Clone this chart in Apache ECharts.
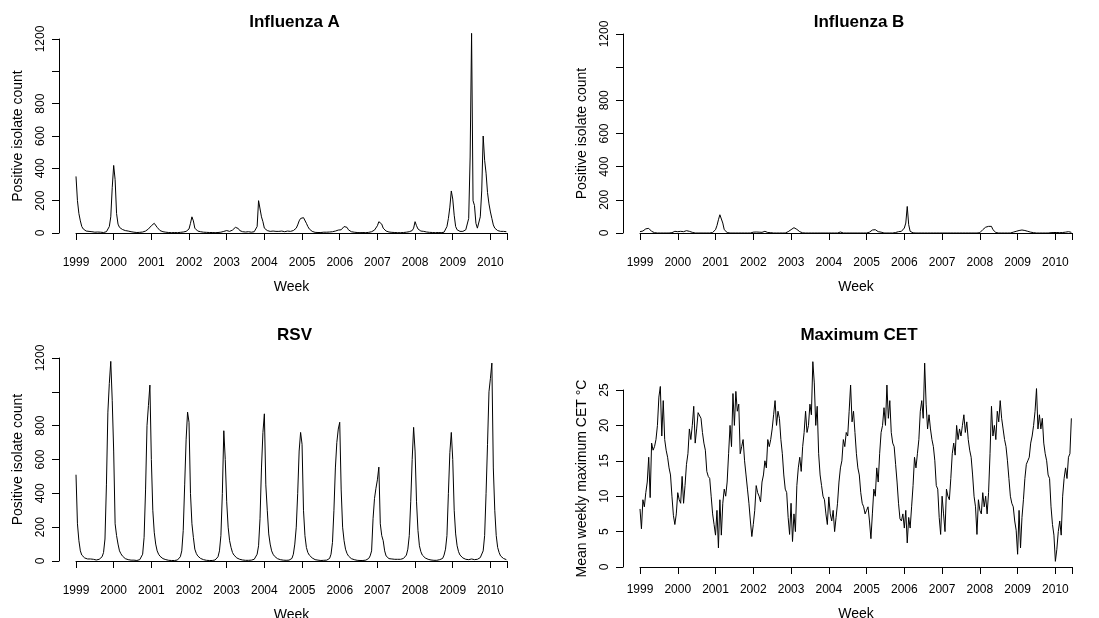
<!DOCTYPE html>
<html>
<head>
<meta charset="utf-8">
<script src="https://cdn.jsdelivr.net/npm/echarts@6/dist/echarts.min.js"></script>
<style>
html, body { margin: 0; padding: 0; background: #fff; }
#chart { width: 1099px; height: 618px; }
</style>
</head>
<body>
<div id="chart"></div>
<script>
// fortnightly readings, 26 per year, first one at the start of 1999
const startYear = 1999
const stepsPerYear = 26
const endYear = 2010.44

const yearTicks = [1999, 2000, 2001, 2002, 2003, 2004, 2005, 2006, 2007, 2008, 2009, 2010]
const countLabels = [0, 200, 400, 600, 800, 1200]
const tempLabels = [0, 5, 10, 15, 20, 25]

const fluA = [
  350, 200, 120, 75, 40, 25, 15, 12, 14, 10, 10, 8, 6, 5, 4, 6, 4, 5, 4, 3, 6, 8, 14, 40, 100, 280,
  418, 330, 120, 55, 35, 28, 22, 18, 15, 14, 12, 10, 8, 6, 5, 4, 3, 3, 4, 5, 6, 8, 12, 18, 25, 35,
  45, 55, 60, 50, 35, 25, 15, 10, 8, 6, 5, 4, 3, 3, 2, 2, 3, 2, 2, 3, 4, 5, 6, 8, 10, 15,
  25, 60, 100, 75, 30, 18, 12, 10, 8, 6, 5, 5, 4, 3, 3, 4, 3, 2, 2, 3, 3, 4, 5, 8, 10, 14,
  15, 12, 10, 12, 18, 25, 35, 40, 28, 15, 10, 8, 8, 6, 5, 8, 6, 5, 6, 8, 12, 40, 200, 190, 100, 70,
  30, 20, 15, 12, 10, 10, 12, 8, 10, 8, 10, 8, 12, 10, 8, 10, 12, 8, 10, 12, 15, 20, 30, 50, 75, 90,
  95, 95, 85, 60, 40, 25, 15, 10, 6, 4, 3, 3, 4, 3, 4, 5, 4, 5, 6, 6, 8, 8, 10, 12, 15, 18,
  18, 20, 25, 40, 50, 35, 20, 12, 8, 6, 5, 4, 3, 3, 2, 2, 3, 2, 2, 3, 4, 5, 8, 12, 18, 30,
  45, 70, 80, 55, 30, 18, 12, 8, 6, 5, 4, 3, 3, 3, 2, 2, 2, 3, 3, 4, 5, 6, 8, 10, 15, 30,
  70, 45, 25, 15, 12, 10, 10, 8, 6, 5, 4, 3, 3, 2, 2, 2, 3, 2, 2, 3, 5, 12, 40, 90, 160, 260,
  210, 110, 40, 20, 12, 10, 8, 10, 15, 20, 25, 90, 470, 1235, 200, 170, 60, 30, 25, 100, 260, 600, 450, 370, 250, 180,
  130, 90, 50, 30, 20, 15, 12, 10, 8, 10, 12, 8
]

const fluB = [
  8, 10, 12, 18, 25, 36, 28, 18, 10, 5, 2, 1, 0, 0, 0, 0, 0, 0, 0, 0, 0, 0, 2, 5, 10, 12,
  8, 14, 10, 12, 8, 10, 14, 12, 10, 8, 4, 2, 0, 0, 0, 0, 0, 0, 0, 0, 0, 0, 0, 1, 3, 8,
  20, 45, 80, 110, 120, 60, 20, 8, 3, 1, 0, 0, 0, 0, 0, 0, 0, 0, 0, 0, 0, 0, 0, 0, 0, 2,
  5, 3, 6, 2, 5, 8, 4, 6, 10, 5, 3, 8, 2, 0, 0, 0, 0, 0, 0, 0, 0, 0, 0, 2, 8, 15,
  20, 28, 32, 30, 22, 15, 8, 3, 1, 0, 0, 0, 0, 0, 0, 0, 0, 0, 0, 0, 0, 0, 0, 0, 0, 0,
  0, 0, 0, 0, 0, 0, 0, 0, 6, 0, 0, 0, 0, 0, 0, 0, 0, 0, 0, 0, 0, 0, 0, 0, 0, 0,
  0, 2, 5, 10, 18, 25, 20, 10, 8, 12, 5, 2, 0, 0, 0, 0, 0, 0, 0, 2, 3, 5, 8, 6, 10, 15,
  30, 60, 160, 50, 10, 3, 1, 0, 0, 0, 0, 0, 0, 0, 0, 0, 0, 0, 0, 0, 0, 0, 0, 0, 0, 0,
  0, 0, 0, 0, 0, 0, 0, 0, 0, 0, 0, 0, 0, 0, 0, 0, 0, 0, 0, 0, 0, 0, 0, 0, 0, 0,
  2, 10, 20, 28, 35, 30, 40, 50, 40, 20, 8, 3, 2, 0, 0, 0, 0, 0, 0, 0, 0, 0, 2, 5, 8, 10,
  12, 15, 20, 18, 22, 15, 18, 10, 8, 5, 3, 2, 0, 0, 0, 0, 0, 0, 0, 0, 0, 0, 0, 2, 5, 3,
  5, 3, 8, 2, 6, 3, 2, 5, 3, 8, 2, 4
]

const rsv = [
  510, 220, 120, 60, 35, 25, 18, 15, 12, 10, 12, 8, 10, 8, 6, 8, 10, 15, 25, 50, 130, 450, 880, 1050, 1180, 950,
  650, 220, 150, 100, 60, 43, 30, 20, 14, 12, 8, 6, 5, 4, 5, 4, 3, 5, 8, 15, 40, 140, 420, 800, 920, 1040,
  600, 300, 170, 100, 60, 40, 28, 20, 14, 10, 8, 6, 4, 3, 3, 2, 3, 4, 6, 12, 25, 60, 180, 450, 720, 880,
  820, 400, 220, 140, 70, 45, 30, 20, 15, 10, 8, 6, 4, 3, 3, 2, 3, 4, 6, 10, 25, 60, 150, 400, 770, 600,
  350, 200, 120, 80, 50, 35, 25, 18, 14, 10, 8, 6, 5, 4, 3, 4, 3, 5, 6, 10, 20, 40, 90, 250, 550, 760,
  870, 450, 300, 160, 100, 60, 40, 28, 20, 14, 10, 8, 6, 5, 4, 4, 3, 5, 8, 15, 40, 100, 200, 400, 650, 760,
  690, 300, 150, 80, 50, 35, 25, 18, 12, 8, 6, 5, 4, 3, 3, 4, 3, 5, 8, 15, 40, 110, 300, 550, 700, 780,
  820, 420, 200, 120, 70, 45, 30, 20, 14, 10, 8, 6, 4, 3, 3, 2, 3, 4, 5, 8, 15, 30, 60, 250, 370, 430,
  480, 555, 220, 150, 120, 60, 30, 20, 14, 10, 12, 15, 10, 12, 10, 8, 10, 12, 15, 20, 35, 70, 150, 350, 600, 790,
  650, 350, 180, 90, 55, 35, 25, 18, 12, 10, 8, 6, 5, 4, 5, 4, 6, 8, 10, 15, 35, 70, 150, 400, 640, 760,
  600, 300, 160, 90, 55, 35, 25, 18, 14, 10, 10, 8, 10, 12, 10, 8, 12, 10, 15, 20, 30, 60, 150, 400, 690, 1000,
  1080, 1170, 550, 300, 150, 80, 50, 30, 20, 15, 10, 8
]

const cetMax = [
  8.2, 5.4, 9.5, 8.5, 10.5, 12, 15.5, 9.8, 17.5, 16.5, 17, 18, 20, 24, 25.5, 18.5, 23.5, 18, 16.5, 15.5, 14, 13, 10, 7.3, 6, 7.5,
  10.5, 9.5, 9, 12.8, 9, 11.5, 14.5, 16, 19.5, 18, 20, 22.7, 17.5, 19.5, 21.8, 22, 21, 19, 17.5, 16.5, 13.5, 12.8, 12.5, 10, 7.5, 6,
  4.5, 8, 2.7, 9.5, 4.5, 9, 11, 10, 12, 16, 20, 17, 24.5, 20, 24.8, 22, 23, 16, 17, 18, 15, 13, 11, 9, 6.5, 4.3,
  6, 8, 11.5, 10.5, 10, 9.2, 12, 13, 15, 14, 18, 17, 18, 19.5, 21.5, 23.5, 20, 22, 21, 18, 16, 13, 11, 10.5, 7, 4.6,
  9, 3.6, 7.5, 5, 11.5, 14, 15.5, 13.5, 17, 19, 22, 19, 20, 23, 21.5, 29, 26, 20, 22.7, 16, 13, 11.5, 10, 9.5, 7.5, 6,
  9.9, 7.5, 6.5, 8, 5, 7, 9, 12, 14, 15, 18, 17, 19, 18.5, 22, 25.7, 20.5, 22, 19, 16, 14, 13, 10.5, 9, 8.5, 7.5,
  8, 8.5, 6.5, 4, 7.5, 11, 10, 14, 12, 16, 19, 20, 22.5, 20, 25.7, 21, 23.5, 19, 17.5, 17, 14.5, 12, 9, 6.8, 6.5, 7.5,
  5.5, 8, 3.4, 7, 5.5, 8.5, 11.5, 15.5, 14, 16, 18, 22, 23.5, 21, 28.8, 23, 19.5, 21.5, 19.5, 18, 17, 15, 11.5, 11, 7, 4.6,
  10, 7.5, 5, 11, 10, 9.5, 12.5, 16, 17.5, 15.8, 20, 18, 19.5, 18.5, 20, 21.5, 19, 20.5, 18, 16.5, 15.5, 13, 10, 8.5, 4.6, 9.5,
  8, 7.5, 10.5, 8.5, 10, 7.5, 10.5, 16, 22.7, 18.5, 20, 18, 22, 20.5, 23.5, 21, 19.5, 18, 17, 15, 12.5, 10, 9, 8.5, 6.5, 5.2,
  1.8, 8, 2.7, 7, 9.5, 12.5, 14.5, 15, 15.5, 17.5, 18.5, 20, 22, 25.2, 19.5, 21.5, 19.5, 21, 17.5, 16, 15, 13, 12.5, 8.5, 6, 4.5,
  0.8, 2.5, 5, 6.5, 4.5, 10, 12.5, 14, 12.5, 15.5, 16, 21
]

const font = 'Liberation Sans, Arial, sans-serif'

const panels = [
  { title: 'Influenza A', yName: 'Positive isolate count', values: fluA, max: 1200, step: 200, labels: countLabels,
    left: 76, top: 39, width: 431, height: 194, xOffset: 8, titleTop: 9 },
  { title: 'Influenza B', yName: 'Positive isolate count', values: fluB, max: 1200, step: 200, labels: countLabels,
    left: 640, top: 34, width: 432, height: 199, xOffset: 8, titleTop: 9 },
  { title: 'RSV', yName: 'Positive isolate count', values: rsv, max: 1200, step: 200, labels: countLabels,
    left: 76, top: 358, width: 431, height: 203, xOffset: 8, titleTop: 322 },
  { title: 'Maximum CET', yName: 'Mean weekly maximum CET °C', values: cetMax, max: 25, step: 5, labels: tempLabels,
    left: 640, top: 390, width: 432, height: 177, xOffset: 1, titleTop: 322 },
]

const toPoints = vals => vals.map((v, i) => [startYear + i / stepsPerYear, v])

const axisLine = { show: true, lineStyle: { color: '#000', width: 1 } }
const axisTick = { show: true, length: 7, lineStyle: { color: '#000', width: 1 } }

const chart = echarts.init(document.getElementById('chart'))

chart.setOption({
  animation: false,
  backgroundColor: '#fff',
  title: panels.map(p => ({
    text: p.title,
    left: p.left + p.width / 2 - 2,
    top: p.titleTop,
    textAlign: 'center',
    textStyle: { fontFamily: font, fontSize: 17, fontWeight: 'bold', color: '#000' },
  })),
  grid: panels.map(p => ({
    left: p.left, top: p.top, width: p.width, height: p.height,
    containLabel: false, outerBoundsMode: 'none',
  })),
  xAxis: panels.map((p, i) => ({
    type: 'value',
    gridIndex: i,
    min: startYear,
    max: endYear,
    offset: p.xOffset,
    name: 'Week',
    nameLocation: 'middle',
    nameGap: 39,
    nameTextStyle: { fontFamily: font, fontSize: 14, color: '#000' },
    axisLine: axisLine,
    axisTick: { ...axisTick, customValues: [...yearTicks, endYear] },
    axisLabel: {
      customValues: yearTicks,
      margin: 16,
      fontFamily: font, fontSize: 12, color: '#000',
      formatter: v => String(Math.round(v)),
    },
    splitLine: { show: false },
  })),
  yAxis: panels.map((p, i) => ({
    type: 'value',
    gridIndex: i,
    min: 0,
    max: p.max,
    interval: p.step,
    offset: 17,
    name: p.yName,
    nameLocation: 'middle',
    nameGap: 34,
    nameTextStyle: { fontFamily: font, fontSize: 14, color: '#000' },
    axisLine: axisLine,
    axisTick: axisTick,
    axisLabel: {
      customValues: p.labels,
      rotate: 90,
      margin: 12,
      fontFamily: font, fontSize: 12, color: '#000',
      formatter: v => String(v),
    },
    splitLine: { show: false },
  })),
  series: panels.map((p, i) => ({
    type: 'line',
    xAxisIndex: i,
    yAxisIndex: i,
    data: toPoints(p.values),
    showSymbol: false,
    clip: false,
    lineStyle: { width: 1, color: '#000' },
  })),
})
</script>
</body>
</html>
